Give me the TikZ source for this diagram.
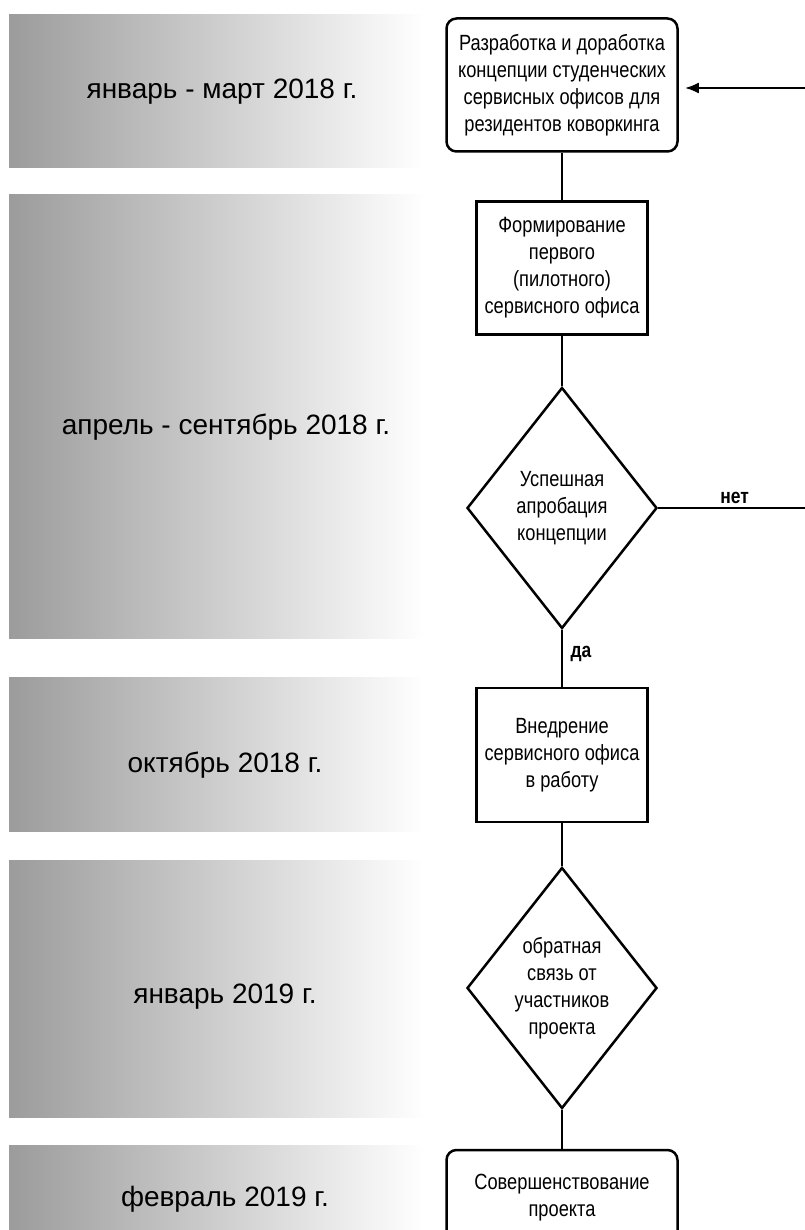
\documentclass[tikz,border=0pt]{standalone}
\usepackage{fontspec}
\setmainfont{Liberation Sans}
\newfontfamily\narrowfont{Liberation Sans}[FakeStretch=0.83]
\usetikzlibrary{shapes.geometric,arrows.meta}

\tikzstyle{band} = [left color=gray!78, right color=white, minimum width=416pt, inner sep=0pt]
\tikzstyle{lbl} = [font=\fontsize{28}{32}\selectfont, inner sep=0pt]
\tikzstyle{box} = [draw, line width=2.5pt, fill=white, align=center, inner sep=0pt, minimum width=171pt, minimum height=133pt, font=\narrowfont\fontsize{22}{27}\selectfont]
\tikzstyle{rbox} = [box, rounded corners=10pt, minimum width=231pt]
\tikzstyle{dec} = [box, diamond, aspect=0.8, minimum width=190pt, minimum height=241pt]
\tikzstyle{conn} = [line width=2.5pt]
\tikzstyle{ans} = [font=\narrowfont\bfseries\fontsize{21}{24}\selectfont]

\begin{document}
\begin{tikzpicture}[x=1pt, y=-1pt]
    \useasboundingbox (0,0) rectangle (804,1230);
    % time bands
    \node[band, minimum height=153pt] (b1) at (217,91.5) {};
    \node[band, minimum height=443pt] (b2) at (217,416.5) {};
    \node[band, minimum height=154pt] (b3) at (217,754) {};
    \node[band, minimum height=257pt] (b4) at (217,988.5) {};
    \node[band, minimum height=105pt] (b5) at (217,1197.5) {};
    \node[lbl] (l1) at (222,92) {январь - март 2018 г.};
    \node[lbl] (l2) at (226,427) {апрель - сентябрь 2018 г.};
    \node[lbl] (l3) at (225,765) {октябрь 2018 г.};
    \node[lbl] (l4) at (225,997) {январь 2019 г.};
    \node[lbl] (l5) at (225,1199) {февраль 2019 г.};
    % flow
    \node[rbox] (razr) at (562,85) {Разработка и доработка\\концепции студенческих\\сервисных офисов для\\резидентов коворкинга};
    \node[box] (form) at (562,268) {Формирование\\первого\\(пилотного)\\сервисного офиса};
    \node[dec] (aprob) at (562,508) {Успешная\\апробация\\концепции};
    \node[box, minimum height=134pt] (vnedr) at (562,755) {Внедрение\\сервисного офиса\\в работу};
    \node[dec] (svyaz) at (562,988) {обратная\\связь от\\участников\\проекта};
    \node[rbox, minimum height=95pt] (sover) at (562,1197.5) {Совершенствование\\проекта};
    \coordinate (back) at (808,88);
    \coordinate (no) at (808,508);
    \draw[conn, -{Latex[length=14pt,width=11pt]}, shorten >=6pt] (back) -- (razr.east |- back);
    \draw[conn] (razr) -- (form);
    \draw[conn] (form) -- (aprob);
    \draw[conn] (aprob.east) -- node[above, ans, pos=0.51] {нет} (no);
    \draw[conn] (aprob.south) -- node[right, ans, pos=0.42, xshift=4pt] {да} (vnedr.north);
    \draw[conn] (vnedr) -- (svyaz);
    \draw[conn] (svyaz) -- (sover);
\end{tikzpicture}
\end{document}
